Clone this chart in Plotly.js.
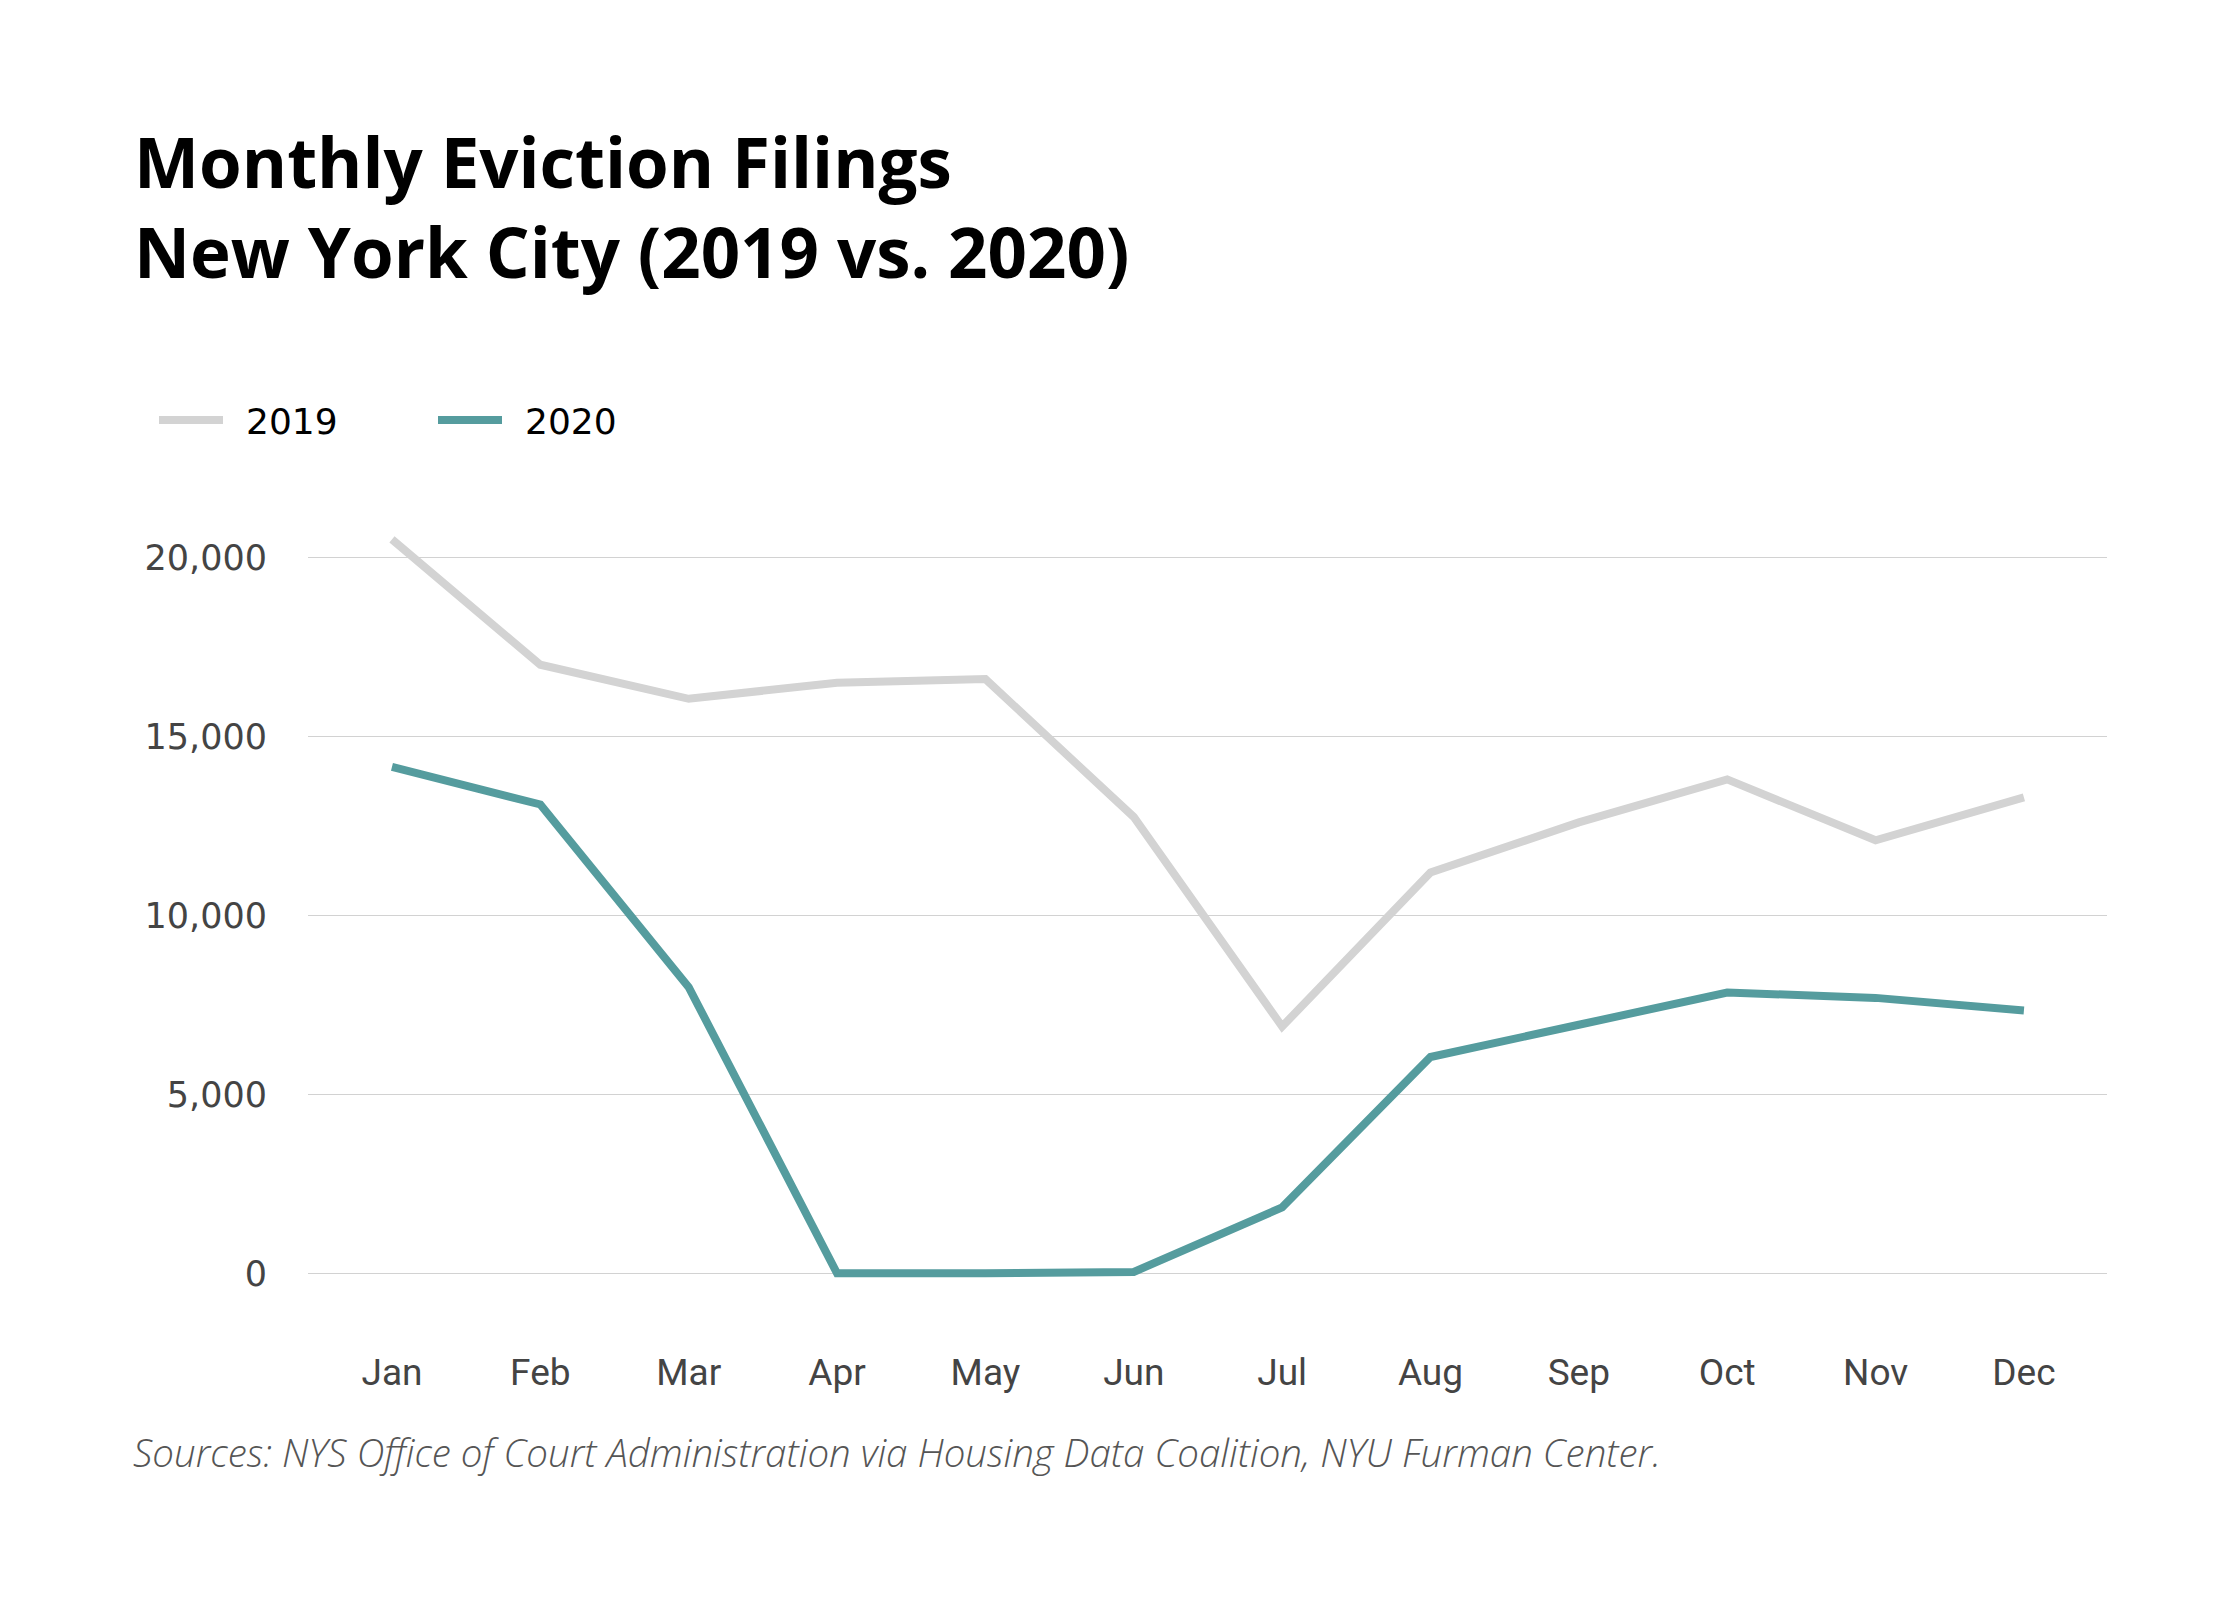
<!DOCTYPE html>
<html>
<head>
<meta charset="utf-8">
<script src="https://cdn.plot.ly/plotly-3.0.1.min.js"></script>
<style>
  html, body { margin: 0; padding: 0; background: #ffffff; }
  #chart { width: 2240px; height: 1600px; }
</style>
</head>
<body>
<div id="chart"></div>
<script>
const months = ["Jan", "Feb", "Mar", "Apr", "May", "Jun", "Jul", "Aug", "Sep", "Oct", "Nov", "Dec"];
const filings2019 = [20500, 17000, 16050, 16500, 16600, 12750, 6900, 11200, 12600, 13800, 12100, 13300];
const filings2020 = [14150, 13100, 8000, 10, 15, 50, 1850, 6050, 6950, 7850, 7700, 7350];
const seriesNames = ["2019", "2020"];
const yTicks = [0, 5000, 10000, 15000, 20000];
const titleText = "Monthly Eviction Filings<br>New York City (2019 vs. 2020)";
const sourceText = "Sources: NYS Office of Court Administration via Housing Data Coalition, NYU Furman Center.";

const W = 2240, H = 1600;
const plotL = 308, plotR = 2107, plotT = 500, plotB = 1331;

const traces = [
  {
    x: months, y: filings2019, name: "\u2002" + seriesNames[0], type: "scatter", mode: "lines",
    line: { color: "#d3d3d3", width: 8 }, hoverinfo: "skip"
  },
  {
    x: months, y: filings2020, name: "\u2002" + seriesNames[1], type: "scatter", mode: "lines",
    line: { color: "#559c9e", width: 8 }, hoverinfo: "skip"
  }
];

const layout = {
  width: W, height: H,
  paper_bgcolor: "#ffffff", plot_bgcolor: "#ffffff",
  margin: { l: plotL, r: W - plotR, t: plotT, b: H - plotB, pad: 0 },
  title: {
    text: titleText,
    xref: "container", yref: "container",
    x: 134 / W, xanchor: "left",
    y: 1 - 188 / H, yanchor: "top",
    font: { family: "'Open Sans', Roboto, sans-serif", size: 69, weight: 700, color: "#000000" }
  },
  showlegend: true,
  legend: {
    orientation: "h",
    xref: "container", yref: "container",
    x: 154 / W, xanchor: "left",
    y: 1 - 420 / H, yanchor: "middle",
    font: { family: "'DejaVu Sans', sans-serif", size: 36, color: "#000000" },
    bgcolor: "rgba(0,0,0,0)",
    itemwidth: 64,
    entrywidth: 200,
    traceorder: "normal"
  },
  xaxis: {
    type: "category",
    range: [-0.566, 11.56],
    showgrid: false, zeroline: false, showline: false,
    ticks: "", ticklabelstandoff: 16,
    tickfont: { family: "Roboto, sans-serif", size: 37, color: "#444444" },
    fixedrange: true
  },
  yaxis: {
    range: [-1600, 21600],
    tickvals: yTicks,
    tickformat: ",",
    showgrid: true, gridcolor: "#d2d2d2", gridwidth: 1.5,
    zeroline: false, showline: false,
    ticks: "", ticklabelstandoff: 40,
    tickfont: { family: "'DejaVu Sans', sans-serif", size: 35, color: "#444444" },
    fixedrange: true
  },
  annotations: [
    {
      text: sourceText,
      xref: "paper", yref: "paper",
      x: (131 - plotL) / (plotR - plotL), xanchor: "left",
      y: (plotB - 1452) / (plotB - plotT), yanchor: "middle",
      showarrow: false,
      font: { family: "'Open Sans', Roboto, sans-serif", size: 38.5, style: "italic", weight: 300, color: "#555555" }
    }
  ]
};

Plotly.newPlot("chart", traces, layout, { staticPlot: true, displayModeBar: false });
</script>
</body>
</html>
